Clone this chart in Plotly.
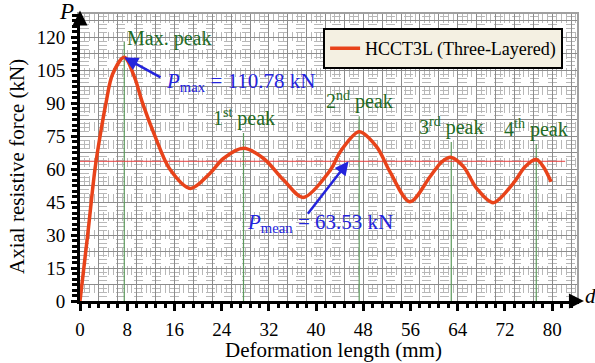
import plotly.graph_objects as go

# Load–displacement response of the three-layered tube
deform_mm = [0, 1.3, 2.54, 3.4, 4.4, 5.5, 7.5, 9.2, 10.6, 12.7, 15.2, 18.7, 22.0, 24.3,
             27.7, 31.1, 34.5, 37.8, 42.4, 44.1, 47.3, 50.3, 52.5, 55.9, 59.3, 61.3,
             62.9, 65.0, 67.2, 70.0, 73.4, 75.4, 77.3, 78.5, 79.8]
force_kN = [0, 30, 60, 75, 90, 103, 110.78, 102, 90, 75, 60, 51.2, 58, 64.8,
            69.4, 64.8, 55, 47.1, 59.5, 67.9, 77, 70, 58.8, 45.1, 56.5, 63.3,
            65.3, 61, 51.2, 44.7, 53.5, 61, 64.4, 61, 54.2]

p_max = 110.78
p_mean = 63.53

# indices of the marked peaks in the arrays above
peak_idx = [6, 14, 20, 26, 32]
peak_names = ["Max. peak", "1<sup>st</sup> peak", "2<sup>nd</sup> peak",
              "3<sup>rd</sup> peak", "4<sup>th</sup> peak"]

x_ticks = list(range(0, 81, 8))
y_ticks = list(range(0, 121, 15))

SERIF = "Liberation Serif"
CURVE = "#e8431a"
GREEN_TXT = "#1f6b25"
GREEN_LN = "#5c9a5c"
BLUE = "#2424dc"

X_RANGE = [0, 84.2]
Y_RANGE = [0, 130.5]

fig = go.Figure()

# peak marker lines
for i in peak_idx:
    d = deform_mm[i]
    fig.add_trace(go.Scatter(x=[d, d], y=[0, force_kN[i] + 7], mode="lines",
                             line=dict(color=GREEN_LN, width=1.2),
                             showlegend=False, hoverinfo="skip"))

# mean force line
fig.add_trace(go.Scatter(x=[0, 82.2], y=[p_mean, p_mean], mode="lines",
                         line=dict(color="#e83a3a", width=1),
                         showlegend=False, hoverinfo="skip"))

# main curve
fig.add_trace(go.Scatter(x=deform_mm, y=force_kN, mode="lines",
                         line=dict(color=CURVE, width=3.5, shape="spline", smoothing=0.9),
                         name="HCCT3L (Three-Layered)"))

# peak labels
for i, name in zip(peak_idx, peak_names):
    d = deform_mm[i]
    top = force_kN[i] + 7
    if i == peak_idx[0]:
        fig.add_annotation(x=d, y=top, text=name, showarrow=False, xanchor="left",
                           yanchor="middle", xshift=1, yshift=3,
                           font=dict(family=SERIF, size=20, color=GREEN_TXT))
    else:
        fig.add_annotation(x=d, y=top, text=name, showarrow=False, xanchor="center",
                           yanchor="bottom", yshift=1,
                           font=dict(family=SERIF, size=20, color=GREEN_TXT))

# P_max callout
fig.add_annotation(x=deform_mm[peak_idx[0]], y=p_max, ax=13.9, ay=101.3,
                   axref="x", ayref="y", showarrow=True, arrowhead=2, arrowsize=1.1,
                   arrowwidth=2.5, arrowcolor=BLUE, text="")
fig.add_annotation(x=14.2, y=99.5, xanchor="left", yanchor="middle", showarrow=False,
                   text="<i>P</i><sub>max</sub> = %.2f kN" % p_max,
                   font=dict(family=SERIF, size=21, color=BLUE))

# P_mean callout
fig.add_annotation(x=45.5, y=p_mean, ax=38.4, ay=39, axref="x", ayref="y",
                   showarrow=True, arrowhead=2, arrowsize=1.1, arrowwidth=2.5,
                   arrowcolor=BLUE, text="")
fig.add_annotation(x=27.9, y=35.5, xanchor="left", yanchor="middle", showarrow=False,
                   text="<i>P</i><sub>mean</sub> = %.2f kN" % p_mean,
                   font=dict(family=SERIF, size=21, color=BLUE))

# axis arrows and symbols (paper coordinates)
fig.add_annotation(xref="paper", yref="paper", x=1.014, y=0, ax=-14, ay=0,
                   axref="pixel", ayref="pixel", showarrow=True, arrowhead=2,
                   arrowsize=1, arrowwidth=3, arrowcolor="black", text="")
fig.add_annotation(xref="paper", yref="paper", x=0, y=1.012, ax=0, ay=14,
                   axref="pixel", ayref="pixel", showarrow=True, arrowhead=2,
                   arrowsize=1, arrowwidth=3, arrowcolor="black", text="")
fig.add_annotation(xref="paper", yref="paper", x=1.013, y=0.018, text="<i>d</i>",
                   showarrow=False, xanchor="left", yanchor="middle",
                   font=dict(family=SERIF, size=21, color="black"))
fig.add_annotation(xref="paper", yref="paper", x=-0.008, y=1.008, text="<i>P</i>",
                   showarrow=False, xanchor="right", yanchor="middle",
                   font=dict(family=SERIF, size=23, color="black"))

# axis titles
fig.add_annotation(xref="paper", yref="paper", x=-0.127, y=0.47, textangle=-90,
                   text="Axial resistive force (kN)", showarrow=False,
                   xanchor="center", yanchor="middle",
                   font=dict(family=SERIF, size=21, color="black"))
fig.add_annotation(xref="paper", yref="paper", x=0.511, y=-0.17,
                   text="Deformation length (mm)", showarrow=False,
                   xanchor="center", yanchor="middle",
                   font=dict(family=SERIF, size=21, color="black"))

fig.update_layout(
    width=595, height=363,
    margin=dict(l=80, r=18, t=14, b=62),
    paper_bgcolor="white", plot_bgcolor="white",
    font=dict(family=SERIF, size=19, color="black"),
    showlegend=True,
    legend=dict(x=0.972, y=0.951, xanchor="right", yanchor="top",
                bgcolor="#f4f0e2", bordercolor="black", borderwidth=2,
                font=dict(family=SERIF, size=18, color="black"),
                itemwidth=30, tracegroupgap=0),
    xaxis=dict(range=X_RANGE, tickvals=x_ticks, ticks="outside", ticklen=7, tickwidth=2.5,
               tickcolor="black", showline=True, linecolor="black", linewidth=3,
               showgrid=False, zeroline=False, ticklabelstandoff=2,
               minor=dict(dtick=1.6, tick0=0, ticks="outside", ticklen=4, tickwidth=2.5,
                          tickcolor="black", showgrid=False),
               tickfont=dict(family=SERIF, size=19)),
    yaxis=dict(range=Y_RANGE, tickvals=y_ticks, ticks="outside", ticklen=6, tickwidth=2.5,
               tickcolor="black", showline=True, linecolor="black", linewidth=3,
               showgrid=False, zeroline=False, ticklabelstandoff=2,
               minor=dict(dtick=2.5, tick0=0, ticks="outside", ticklen=5, tickwidth=2.5,
                          tickcolor="black", showgrid=False),
               tickfont=dict(family=SERIF, size=19)),
    # background mesh drawn on overlaid axes
    xaxis2=dict(range=X_RANGE, overlaying="x", side="top", showticklabels=False,
                ticks="", dtick=3.2, tick0=0, showgrid=True, gridcolor="#8c8c8c",
                gridwidth=1, zeroline=False, showline=True, linecolor="#a0a0a0",
                linewidth=1.5,
                minor=dict(dtick=0.8, tick0=0, showgrid=True, gridcolor="#b8b8b8",
                           griddash="dash", gridwidth=1)),
    yaxis2=dict(range=Y_RANGE, overlaying="y", side="right", showticklabels=False,
                ticks="", dtick=7.5, tick0=0, showgrid=True, gridcolor="#8c8c8c",
                gridwidth=1, zeroline=False, showline=True, linecolor="#a0a0a0",
                linewidth=1.5,
                minor=dict(dtick=1.875, tick0=0, showgrid=True, gridcolor="#b8b8b8",
                           griddash="dash", gridwidth=1)),
)

# invisible carrier so the overlaid mesh axes are rendered
fig.add_trace(go.Scatter(x=[None], y=[None], xaxis="x2", yaxis="y2",
                         showlegend=False, hoverinfo="skip"))

fig.write_html("out.html")
